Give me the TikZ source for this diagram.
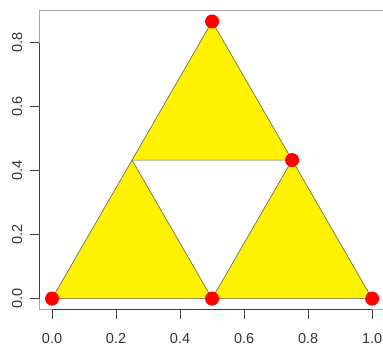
\documentclass[tikz,border=0pt]{standalone}
\usepackage{fontspec}
\setmainfont{Liberation Sans}
\usetikzlibrary{positioning}

\begin{document}
\begin{tikzpicture}[
    x=320pt, y=320pt,
    tri/.style={fill=yellow, draw=black!70!yellow, line width=0.6pt},
    vertex/.style={circle, fill=red, inner sep=0pt, minimum size=14pt},
    axtick/.style={draw=black!75, line width=0.6pt},
    ticklabel/.style={font=\fontsize{14.5}{16}\selectfont, text=black!80, inner sep=0pt},
]
    \useasboundingbox (-0.1625,-0.148) rectangle (1.034,0.933);

    % Plot box and axes
    \draw[gray!70, line width=0.6pt] (-0.04,-0.0346) rectangle (1.04,0.9006);
    \draw[axtick] (0,-0.0346) -- (1,-0.0346);
    \draw[axtick] (-0.04,0) -- (-0.04,0.8);
    \foreach \v in {0.0,0.2,0.4,0.6,0.8,1.0} {
        \draw[axtick] (\v,-0.0346) -- (\v,-0.063);
        \node[ticklabel] (xl\v) at (\v,-0.124) {\v};
    }
    \foreach \v in {0.0,0.2,0.4,0.6,0.8} {
        \draw[axtick] (-0.04,\v) -- (-0.068,\v);
        \node[ticklabel, rotate=90] (yl\v) at (-0.109,\v) {\v};
    }

    % Corners
    \coordinate (a) at (0,0);
    \coordinate (b) at (1,0);
    \coordinate (c) at (0.5,0.866);
    \coordinate (ab) at (0.5,0);
    \coordinate (bc) at (0.75,0.433);
    \coordinate (ac) at (0.25,0.433);

    % Triangles
    \filldraw[tri] (a) -- (ab) -- (ac) -- cycle;
    \filldraw[tri] (ab) -- (b) -- (bc) -- cycle;
    \filldraw[tri] (ac) -- (bc) -- (c) -- cycle;

    % Points
    \node[vertex] (pa) at (a) {};
    \node[vertex] (pab) at (ab) {};
    \node[vertex] (pb) at (b) {};
    \node[vertex] (pbc) at (bc) {};
    \node[vertex] (pc) at (c) {};
\end{tikzpicture}
\end{document}
